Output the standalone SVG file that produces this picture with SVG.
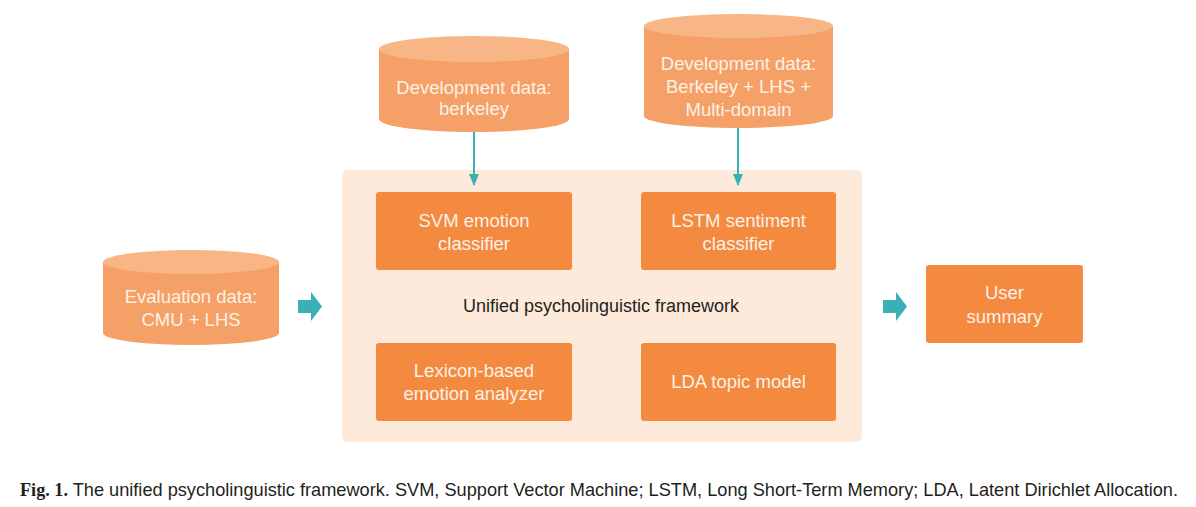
<svg xmlns="http://www.w3.org/2000/svg" width="1196" height="507" viewBox="0 0 1196 507">
<style>
.box{fill:#f38a40}
.cylb{fill:#f5a066}
.cylt{fill:#f8b686}
.t{font-family:"Liberation Sans",Arial,sans-serif;font-size:18.5px;fill:#fdf1e6;text-anchor:middle}
.c{font-family:"Liberation Sans",Arial,sans-serif;font-size:18px;fill:#231f20;text-anchor:middle}
.conn{stroke:#3aafb4;stroke-width:2;fill:none}
.blk{fill:#3aafb4}
</style>
<defs>
<marker id="ah" markerWidth="12" markerHeight="10" refX="11" refY="5" orient="auto" markerUnits="userSpaceOnUse">
<path d="M0,0 L12,5 L0,10 z" fill="#3aafb4"/>
</marker>
</defs>
<rect width="1196" height="507" fill="#ffffff"/>
<g id="framework">
<rect x="342" y="170" width="520" height="272" rx="6" fill="#fdeadb"/>
<text class="c" x="601" y="312">Unified psycholinguistic framework</text>
</g>
<g id="dev-berkeley">
<path class="cylb" d="M379,49 V119 A95,13 0 0 0 569,119 V49 Z"/>
<ellipse class="cylt" cx="474" cy="49" rx="95" ry="13"/>
<text class="t" x="474" y="94">Development data:</text>
<text class="t" x="474" y="115">berkeley</text>
</g>
<g id="dev-multi">
<path class="cylb" d="M644,26 V116 A94.5,12 0 0 0 833,116 V26 Z"/>
<ellipse class="cylt" cx="738.5" cy="26" rx="94.5" ry="12"/>
<text class="t" x="738.5" y="70">Development data:</text>
<text class="t" x="738.5" y="93">Berkeley + LHS +</text>
<text class="t" x="738.5" y="116">Multi-domain</text>
</g>
<g id="eval-data">
<path class="cylb" d="M103,262 V333 A88,12 0 0 0 279,333 V262 Z"/>
<ellipse class="cylt" cx="191" cy="262" rx="88" ry="12"/>
<text class="t" x="191" y="303">Evaluation data:</text>
<text class="t" x="191" y="326">CMU + LHS</text>
</g>
<g id="svm">
<rect class="box" x="376" y="192" width="196" height="78" rx="3"/>
<text class="t" x="474" y="227">SVM emotion</text>
<text class="t" x="474" y="250">classifier</text>
</g>
<g id="lstm">
<rect class="box" x="641" y="192" width="195" height="78" rx="3"/>
<text class="t" x="738.5" y="227">LSTM sentiment</text>
<text class="t" x="738.5" y="250">classifier</text>
</g>
<g id="lexicon">
<rect class="box" x="376" y="343" width="196" height="78" rx="3"/>
<text class="t" x="474" y="377">Lexicon-based</text>
<text class="t" x="474" y="400">emotion analyzer</text>
</g>
<g id="lda">
<rect class="box" x="641" y="343" width="195" height="78" rx="3"/>
<text class="t" x="738.5" y="388">LDA topic model</text>
</g>
<g id="user-summary">
<rect class="box" x="926" y="265" width="157" height="78" rx="3"/>
<text class="t" x="1004.5" y="299">User</text>
<text class="t" x="1004.5" y="323">summary</text>
</g>
<g id="connectors">
<line class="conn" x1="474" y1="132" x2="474" y2="185" marker-end="url(#ah)"/>
<line class="conn" x1="738" y1="128" x2="738" y2="185" marker-end="url(#ah)"/>
<path class="blk" d="M298,300 H311 V292 L322,306.5 L311,321 V313 H298 Z"/>
<path class="blk" d="M883,300 H896 V292 L907,306.5 L896,321 V313 H883 Z"/>
</g>
<g id="caption">
<text x="20" y="496" font-family="'Liberation Sans',Arial,sans-serif" font-size="18.2" fill="#231f20" textLength="1158" lengthAdjust="spacing"><tspan font-family="'Liberation Serif','Times New Roman',serif" font-weight="bold">Fig. 1.</tspan><tspan> The unified psycholinguistic framework. SVM, Support Vector Machine; LSTM, Long Short-Term Memory; LDA, Latent Dirichlet Allocation.</tspan></text>
</g>
</svg>
